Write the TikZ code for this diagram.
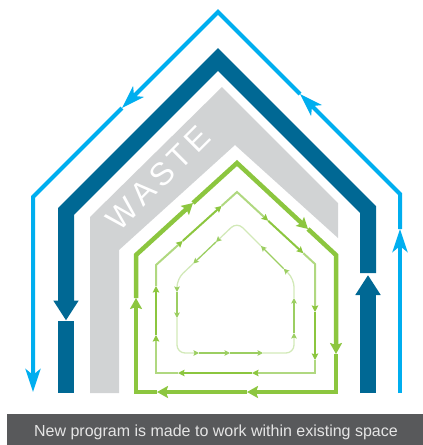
\documentclass[tikz,border=0pt]{standalone}
\usepackage{fontspec}
\setmainfont{Liberation Sans}
\usetikzlibrary{arrows.meta,calc}
\definecolor{lblue}{HTML}{00AEEF}
\definecolor{dblue}{HTML}{006894}
\definecolor{wgray}{HTML}{D1D3D4}
\definecolor{gdark}{HTML}{8CC63F}
\definecolor{gmidl}{HTML}{B0D880}
\definecolor{ginl}{HTML}{D2E9B8}
\definecolor{gind}{HTML}{9CCE62}
\definecolor{capgray}{HTML}{58595B}
\begin{document}
\begin{tikzpicture}[x=1pt,y=-1pt,
  bluel/.style={draw=lblue,line width=4pt,-{Stealth[width=15pt,length=23pt,inset=6pt]}},
  blued/.style={draw=dblue,line width=16pt,-{Triangle[width=24pt,length=20pt]}},
  gout/.style={draw=gdark,line width=4.5pt,-{Stealth[width=12pt,length=11pt,inset=2pt]}},
  gmidlight/.style={draw=gmidl,line width=2pt,-{Stealth[width=6.5pt,length=6.5pt,inset=1pt,color=gdark]}},
  gmiddark/.style={gmidlight,draw=gdark},
  ginlight/.style={draw=ginl,line width=1.3pt,rounded corners=8pt,-{Stealth[width=5.5pt,length=5.5pt,inset=1pt,color=gind]}},
  gindark/.style={ginlight,draw=gind},
  wastetext/.style={text=white,font=\fontsize{32}{32}\selectfont,rotate=45,inner sep=0pt,anchor=center}]
\useasboundingbox (0,0) rectangle (423,445);

% gray waste band
\fill[wgray] (90,393) -- (90,217) -- (222,87) -- (338,203) -- (338,238)
  -- (235,145) -- (119,250) -- (119,393) -- cycle;
\node[wastetext] (waste) at (158,178) {W\kern4.5pt A\kern4.5pt S\kern4.5pt T\kern4.5pt E};

% outer light blue loop
\coordinate (bApex) at (218,12);
\coordinate (bL) at (33,197);
\coordinate (bR) at (400,194);
\coordinate (bRa) at (400,229);
\coordinate (bRd) at (300,94);
\coordinate (bLd) at (122,108);
\draw[bluel] (400,393) -- (bRa);
\draw[bluel] (bRa) -- (bR) -- (bRd);
\draw[bluel] (bRd) -- (bApex) -- (bLd);
\draw[bluel] (bLd) -- (bL) -- (33,392);

% dark blue loop
\coordinate (dApex) at (218,59.5);
\coordinate (dL) at (66,211.5);
\coordinate (dR) at (368,209.5);
\draw[blued] (368,273) -- (dR) -- (dApex) -- (dL) -- (66,320.5);
\draw[blued] (368,393) -- (368,275);
\fill[dblue] (58,321) rectangle (74,393);

% outer green loop (clockwise)
\coordinate (gA) at (136,392);
\coordinate (gB) at (136,255);
\coordinate (gC) at (237,163);
\coordinate (gD) at (336,255);
\coordinate (gE) at (336,392);
\coordinate (g1) at (136,298);
\coordinate (g2) at (193,203);
\coordinate (g3) at (308,229);
\coordinate (g4) at (336,354);
\coordinate (g5) at (247,392);
\coordinate (g6) at (157,392);
\draw[gout] (g6) -- (gA) -- (g1);
\draw[gout] (g1) -- (gB) -- (g2);
\draw[gout] (g2) -- (gC) -- (g3);
\draw[gout] (g3) -- (gD) -- (g4);
\draw[gout] (g4) -- (gE) -- (g5);
\draw[gout] (g5) -- (g6);

% middle green loop (clockwise)
\coordinate (mA) at (156,373);
\coordinate (mB) at (156,265);
\coordinate (mC) at (237,192);
\coordinate (mD) at (315,264);
\coordinate (mE) at (315,373);
\coordinate (m1) at (156,335);
\coordinate (m2) at (156,286);
\coordinate (m3) at ($(mB)!0.33!(mC)$);
\coordinate (m4) at ($(mB)!0.81!(mC)$);
\coordinate (m5) at ($(mC)!0.40!(mD)$);
\coordinate (m6) at ($(mC)!0.85!(mD)$);
\coordinate (m7) at (315,312);
\coordinate (m8) at (315,360);
\coordinate (m9) at (252,373);
\coordinate (m10) at (178,373);
\draw[gmidlight] (m10) -- (mA) -- (m1);
\draw[gmiddark] (m1) -- (m2);
\draw[gmidlight] (m2) -- (mB) -- (m3);
\draw[gmiddark] (m3) -- (m4);
\draw[gmidlight] (m4) -- (mC) -- (m5);
\draw[gmiddark] (m5) -- (m6);
\draw[gmidlight] (m6) -- (mD) -- (m7);
\draw[gmiddark] (m7) -- (m8);
\draw[gmidlight] (m8) -- (mE) -- (m9);
\draw[gmiddark] (m9) -- (m10);

% inner green loop (counter-clockwise)
\coordinate (iA) at (177,353);
\coordinate (iB) at (177,279);
\coordinate (iC) at (237,222);
\coordinate (iD) at (294,279);
\coordinate (iE) at (294,353);
\coordinate (i1) at ($(iC)!0.35!(iB)$);
\coordinate (i2) at ($(iC)!0.73!(iB)$);
\coordinate (i3) at (177,292);
\coordinate (i4) at (177,318);
\coordinate (i5) at (199,353);
\coordinate (i6) at (230,353);
\coordinate (i7) at (263,353);
\coordinate (i8) at (294,333);
\coordinate (i9) at (294,298);
\coordinate (i10) at ($(iD)!0.18!(iC)$);
\coordinate (i11) at ($(iD)!0.58!(iC)$);
\draw[ginlight] (i11) -- (iC) -- (i1);
\draw[gindark] (i1) -- (i2);
\draw[ginlight] (i2) -- (iB) -- (i3);
\draw[gindark] (i3) -- (i4);
\draw[ginlight] (i4) -- (iA) -- (i5);
\draw[gindark] (i5) -- (i6);
\draw[gindark] (i6) -- (i7);
\draw[ginlight] (i7) -- (iE) -- (i8);
\draw[gindark] (i8) -- (i9);
\draw[ginlight] (i9) -- (iD) -- (i10);
\draw[gindark] (i10) -- (i11);

% caption bar
\fill[capgray] (7,414) rectangle (423,445);
\node[text=white!90!black,font=\fontsize{16}{19}\selectfont,inner sep=0pt] (cap) at (216,432)
  {New program is made to work within existing space};
\end{tikzpicture}
\end{document}
